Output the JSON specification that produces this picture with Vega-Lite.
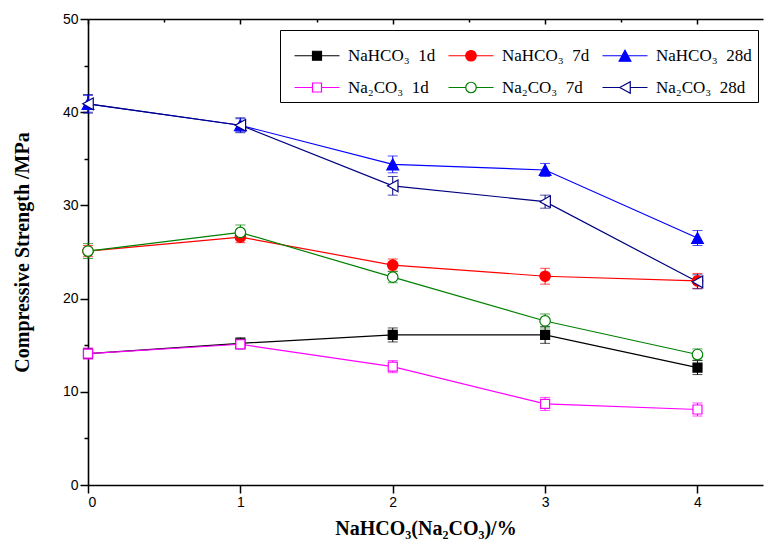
{
  "$schema": "https://vega.github.io/schema/vega-lite/v6.json",
  "width": 675,
  "height": 466,
  "autosize": "none",
  "padding": {"left": 88, "top": 19, "right": 1, "bottom": 62},
  "background": "white",
  "config": {
    "view": {"stroke": null},
    "axis": {
      "domainColor": "black",
      "domainWidth": 1.6,
      "tickColor": "black",
      "tickWidth": 1.5,
      "labelColor": "black",
      "labelFont": "Liberation Sans",
      "labelFontSize": 14,
      "titleColor": "black",
      "titleFont": "Liberation Serif",
      "titleFontWeight": "bold",
      "titleFontSize": 20,
      "grid": false,
      "zindex": 1
    }
  },
  "data": {
    "values": [
      {"x": 0, "series": "NaHCO\u2083\u00a0\u00a01d", "v": 14.1, "lo": 13.6, "hi": 14.6},
      {"x": 1, "series": "NaHCO\u2083\u00a0\u00a01d", "v": 15.2, "lo": 14.6, "hi": 15.8},
      {"x": 2, "series": "NaHCO\u2083\u00a0\u00a01d", "v": 16.1, "lo": 15.35, "hi": 16.85},
      {"x": 3, "series": "NaHCO\u2083\u00a0\u00a01d", "v": 16.1, "lo": 15.2, "hi": 17.0},
      {"x": 4, "series": "NaHCO\u2083\u00a0\u00a01d", "v": 12.6, "lo": 11.85, "hi": 13.35},
      {"x": 0, "series": "NaHCO\u2083\u00a0\u00a07d", "v": 25.1, "lo": 24.5, "hi": 25.7},
      {"x": 1, "series": "NaHCO\u2083\u00a0\u00a07d", "v": 26.6, "lo": 26.0, "hi": 27.2},
      {"x": 2, "series": "NaHCO\u2083\u00a0\u00a07d", "v": 23.6, "lo": 22.95, "hi": 24.25},
      {"x": 3, "series": "NaHCO\u2083\u00a0\u00a07d", "v": 22.4, "lo": 21.55, "hi": 23.25},
      {"x": 4, "series": "NaHCO\u2083\u00a0\u00a07d", "v": 21.9, "lo": 21.1, "hi": 22.7},
      {"x": 0, "series": "NaHCO\u2083\u00a0\u00a028d", "v": 40.9, "lo": 40.0, "hi": 41.8},
      {"x": 1, "series": "NaHCO\u2083\u00a0\u00a028d", "v": 38.6, "lo": 37.9, "hi": 39.3},
      {"x": 2, "series": "NaHCO\u2083\u00a0\u00a028d", "v": 34.4, "lo": 33.5, "hi": 35.3},
      {"x": 3, "series": "NaHCO\u2083\u00a0\u00a028d", "v": 33.8, "lo": 33.1, "hi": 34.5},
      {"x": 4, "series": "NaHCO\u2083\u00a0\u00a028d", "v": 26.5, "lo": 25.7, "hi": 27.3},
      {"x": 0, "series": "Na\u2082CO\u2083\u00a0\u00a01d", "v": 14.1, "lo": 13.5, "hi": 14.7},
      {"x": 1, "series": "Na\u2082CO\u2083\u00a0\u00a01d", "v": 15.1, "lo": 14.6, "hi": 15.6},
      {"x": 2, "series": "Na\u2082CO\u2083\u00a0\u00a01d", "v": 12.7, "lo": 12.05, "hi": 13.35},
      {"x": 3, "series": "Na\u2082CO\u2083\u00a0\u00a01d", "v": 8.7, "lo": 8.0, "hi": 9.4},
      {"x": 4, "series": "Na\u2082CO\u2083\u00a0\u00a01d", "v": 8.1, "lo": 7.4, "hi": 8.8},
      {"x": 0, "series": "Na\u2082CO\u2083\u00a0\u00a07d", "v": 25.1, "lo": 24.3, "hi": 25.9},
      {"x": 1, "series": "Na\u2082CO\u2083\u00a0\u00a07d", "v": 27.1, "lo": 26.3, "hi": 27.9},
      {"x": 2, "series": "Na\u2082CO\u2083\u00a0\u00a07d", "v": 22.3, "lo": 21.7, "hi": 22.9},
      {"x": 3, "series": "Na\u2082CO\u2083\u00a0\u00a07d", "v": 17.6, "lo": 16.85, "hi": 18.35},
      {"x": 4, "series": "Na\u2082CO\u2083\u00a0\u00a07d", "v": 14.0, "lo": 13.4, "hi": 14.6},
      {"x": 0, "series": "Na\u2082CO\u2083\u00a0\u00a028d", "v": 40.9, "lo": 39.9, "hi": 41.9},
      {"x": 1, "series": "Na\u2082CO\u2083\u00a0\u00a028d", "v": 38.6, "lo": 37.8, "hi": 39.4},
      {"x": 2, "series": "Na\u2082CO\u2083\u00a0\u00a028d", "v": 32.1, "lo": 31.1, "hi": 33.1},
      {"x": 3, "series": "Na\u2082CO\u2083\u00a0\u00a028d", "v": 30.4, "lo": 29.7, "hi": 31.1},
      {"x": 4, "series": "Na\u2082CO\u2083\u00a0\u00a028d", "v": 21.8, "lo": 21.05, "hi": 22.55}
    ]
  },
  "resolve": {
    "axis": {"x": "independent"},
    "legend": {"stroke": "independent", "color": "independent", "fill": "independent", "shape": "independent"}
  },
  "layer": [
    {
      "mark": {"type": "rule", "strokeWidth": 1},
      "encoding": {
        "x": {
          "field": "x", "type": "quantitative",
          "scale": {"domain": [0, 4.43], "nice": false, "zero": false},
          "axis": {
            "orient": "top", "values": [0, 0.5, 1, 1.5, 2, 2.5, 3, 3.5, 4],
            "labels": false, "title": null,
            "tickSize": {"condition": {"test": "datum.value % 1", "value": -3}, "value": -5}
          }
        },
        "y": {
          "field": "lo", "type": "quantitative",
          "scale": {"domain": [0, 50], "nice": false},
          "axis": {
            "values": [0, 5, 10, 15, 20, 25, 30, 35, 40, 45, 50],
            "labelExpr": "datum.value % 10 ? '' : datum.label",
            "tickSize": {"condition": {"test": "datum.value % 10", "value": 4}, "value": 8},
            "labelPadding": 2,
            "title": "Compressive Strength /MPa",
            "titlePadding": 30
          }
        },
        "y2": {"field": "hi"},
        "stroke": {
          "field": "series", "type": "nominal", "legend": null,
          "scale": {
            "domain": ["NaHCO\u2083\u00a0\u00a01d", "NaHCO\u2083\u00a0\u00a07d", "NaHCO\u2083\u00a0\u00a028d", "Na\u2082CO\u2083\u00a0\u00a01d", "Na\u2082CO\u2083\u00a0\u00a07d", "Na\u2082CO\u2083\u00a0\u00a028d"],
            "range": ["#000000", "#ff0000", "#0000ff", "#ff00ff", "#008000", "#000080"]
          }
        }
      }
    },
    {
      "mark": {"type": "tick", "orient": "horizontal", "size": 10, "thickness": 1},
      "encoding": {
        "x": {"field": "x", "type": "quantitative", "axis": null},
        "y": {"field": "lo", "type": "quantitative"},
        "color": {"field": "series", "type": "nominal", "legend": null,
          "scale": {
            "domain": ["NaHCO\u2083\u00a0\u00a01d", "NaHCO\u2083\u00a0\u00a07d", "NaHCO\u2083\u00a0\u00a028d", "Na\u2082CO\u2083\u00a0\u00a01d", "Na\u2082CO\u2083\u00a0\u00a07d", "Na\u2082CO\u2083\u00a0\u00a028d"],
            "range": ["#000000", "#ff0000", "#0000ff", "#ff00ff", "#008000", "#000080"]
          }
        }
      }
    },
    {
      "mark": {"type": "tick", "orient": "horizontal", "size": 10, "thickness": 1},
      "encoding": {
        "x": {"field": "x", "type": "quantitative", "axis": null},
        "y": {"field": "hi", "type": "quantitative"},
        "color": {"field": "series", "type": "nominal", "legend": null}
      }
    },
    {
      "mark": {"type": "line", "strokeWidth": 1.2},
      "encoding": {
        "x": {"field": "x", "type": "quantitative", "axis": null},
        "y": {"field": "v", "type": "quantitative"},
        "stroke": {"field": "series", "type": "nominal", "legend": null},
        "detail": {"field": "series"}
      }
    },
    {
      "mark": {"type": "point", "size": 100, "strokeWidth": 1.2, "opacity": 1, "filled": false},
      "encoding": {
        "x": {
          "field": "x", "type": "quantitative",
          "axis": {
            "orient": "bottom", "values": [0, 0.5, 1, 1.5, 2, 2.5, 3, 3.5, 4],
            "format": "d",
            "labelExpr": "datum.value % 1 ? '' : datum.label",
            "tickSize": {"condition": {"test": "datum.value % 1", "value": 4}, "value": 8},
            "labelPadding": 2,
            "title": "NaHCO\u2083(Na\u2082CO\u2083)/%",
            "titlePadding": 9
          }
        },
        "y": {"field": "v", "type": "quantitative"},
        "stroke": {
          "field": "series", "type": "nominal",
          "legend": {
            "orient": "none", "legendX": 192, "legendY": 11,
            "columns": 3, "direction": "horizontal",
            "title": " ", "titleFontSize": 1, "titlePadding": 10,
            "strokeColor": "black", "fillColor": "white", "padding": 6,
            "labelFont": "Liberation Serif", "labelFontSize": 17, "labelColor": "black",
            "labelOffset": 45, "labelLimit": 0,
            "symbolSize": 100, "symbolStrokeWidth": 1.2,
            "columnPadding": 4, "rowPadding": 14,
            "symbolType": {"expr": "['M0,0H3.6M5.4,0H9M3.6,-0.9H5.4V0.9H3.6Z','M0,0H3.45M5.55,0H9M3.45,0A1.05,1.05,0,1,0,5.55,0A1.05,1.05,0,1,0,3.45,0Z','M0,0H3.9M5.1,0H9M4.5,-1.1L5.67,1.1L3.33,1.1Z','M0,0H3.6M5.4,0H9M3.6,-0.9H5.4V0.9H3.6Z','M0,0H3.45M5.55,0H9M3.45,0A1.05,1.05,0,1,0,5.55,0A1.05,1.05,0,1,0,3.45,0Z','M0,0H3.45M5.55,0H9M3.45,0L5.55,-1.17L5.55,1.17Z'][indexof(domain('stroke'), datum.value)]"},
            "symbolFillColor": {"expr": "scale('fill', datum.value)"}
          }
        },
        "fill": {
          "field": "series", "type": "nominal", "legend": null,
          "scale": {
            "domain": ["Na\u2082CO\u2083\u00a0\u00a028d", "Na\u2082CO\u2083\u00a0\u00a07d", "Na\u2082CO\u2083\u00a0\u00a01d", "NaHCO\u2083\u00a0\u00a028d", "NaHCO\u2083\u00a0\u00a07d", "NaHCO\u2083\u00a0\u00a01d"],
            "range": ["#ffffff", "#ffffff", "#ffffff", "#0000ff", "#ff0000", "#000000"]
          }
        },
        "shape": {
          "field": "series", "type": "nominal", "legend": null,
          "scale": {
            "domain": ["Na\u2082CO\u2083\u00a0\u00a028d", "Na\u2082CO\u2083\u00a0\u00a07d", "Na\u2082CO\u2083\u00a0\u00a01d", "NaHCO\u2083\u00a0\u00a028d", "NaHCO\u2083\u00a0\u00a07d", "NaHCO\u2083\u00a0\u00a01d"],
            "range": [
              "M-1.05,0L1.05,-1.17L1.05,1.17Z",
              "M-1.05,0A1.05,1.05,0,1,0,1.05,0A1.05,1.05,0,1,0,-1.05,0Z",
              "M-0.9,-0.9H0.9V0.9H-0.9Z",
              "M0,-1.1L1.17,1.1L-1.17,1.1Z",
              "M-1.05,0A1.05,1.05,0,1,0,1.05,0A1.05,1.05,0,1,0,-1.05,0Z",
              "M-0.9,-0.9H0.9V0.9H-0.9Z"
            ]
          }
        }
      }
    }
  ]
}
